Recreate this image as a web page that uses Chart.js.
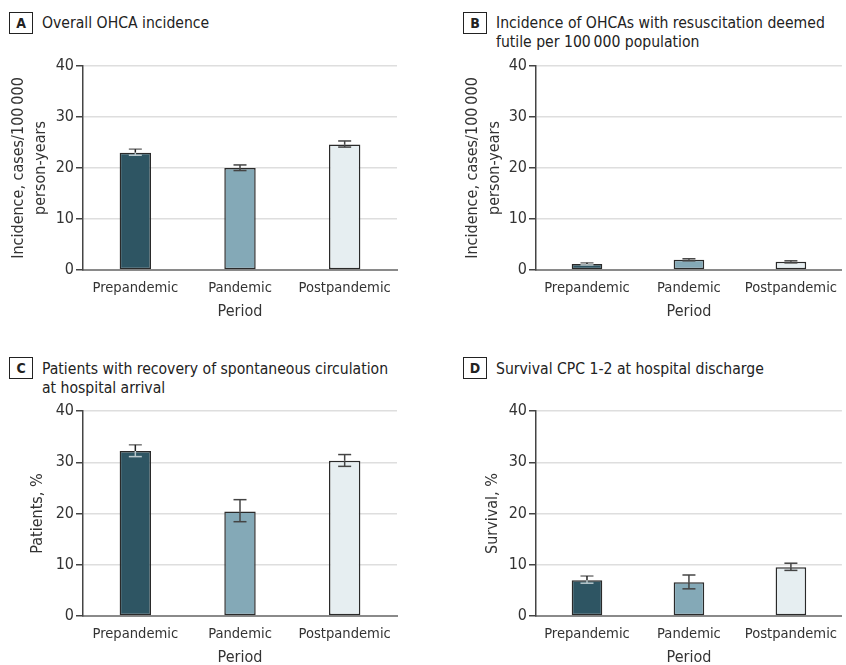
<!DOCTYPE html>
<html>
<head>
<meta charset="utf-8">
<script src="https://cdn.jsdelivr.net/npm/chart.js@4/dist/chart.umd.min.js"></script>
<style>
  html, body { margin:0; padding:0; background:#fff; width:846px; height:665px; overflow:hidden; }
  body { position:relative; font-family:"DejaVu Sans Condensed","DejaVu Sans",sans-serif; color:#222; }
  .panel { position:absolute; }
  .hdr { position:absolute; font-size:15.6px; line-height:18.5px; color:#222; }
  .box { position:absolute; width:22px; height:20px; border:1px solid #222; font-weight:bold; font-size:14px; text-align:center; line-height:20px; }
  canvas { position:absolute; }
</style>
</head>
<body>
<div class="box" style="left:9px;top:12px;">A</div>
<div class="hdr" style="left:42px;top:14px;">Overall OHCA incidence</div>
<div class="box" style="left:463px;top:12px;">B</div>
<div class="hdr" style="left:496px;top:14px;">Incidence of OHCAs with resuscitation deemed<br>futile per 100&#8201;000 population</div>
<div class="box" style="left:9px;top:357px;">C</div>
<div class="hdr" style="left:42px;top:360px;">Patients with recovery of spontaneous circulation<br>at hospital arrival</div>
<div class="box" style="left:463px;top:357px;">D</div>
<div class="hdr" style="left:496px;top:360px;">Survival CPC 1-2 at hospital discharge</div>

<div class="panel" style="left:0;top:0;width:423px;height:330px;"><canvas id="cA"></canvas></div>
<div class="panel" style="left:423px;top:0;width:423px;height:330px;"><canvas id="cB"></canvas></div>
<div class="panel" style="left:0;top:330px;width:423px;height:340px;"><canvas id="cC"></canvas></div>
<div class="panel" style="left:423px;top:330px;width:423px;height:340px;"><canvas id="cD"></canvas></div>

<script>
// ---- data ----
const periods = ["Prepandemic", "Pandemic", "Postpandemic"];
const yTicks = [0, 10, 20, 30, 40];

const incidenceOverall = [23.0, 20.0, 24.6];
const incidenceOverallLow = [22.5, 19.5, 24.1];
const incidenceOverallHigh = [23.7, 20.6, 25.3];

const incidenceFutile = [1.2, 2.0, 1.6];
const incidenceFutileLow = [1.0, 1.8, 1.4];
const incidenceFutileHigh = [1.4, 2.2, 1.8];

const roscPct = [32.2, 20.4, 30.3];
const roscLow = [31.1, 18.4, 29.2];
const roscHigh = [33.4, 22.7, 31.5];

const survivalPct = [7.0, 6.6, 9.5];
const survivalLow = [6.4, 5.3, 8.9];
const survivalHigh = [7.8, 8.0, 10.3];

const barColors = ["#2e5563", "#84a9b7", "#e6eef1"];
const capAboveColors = ["#777", "#444", "#444"];
const capInsideColors = ["#b9c8cd", "#444", "#444"];

const FONT = "'DejaVu Sans Condensed','DejaVu Sans',sans-serif";

const errorBarPlugin = {
  id: 'errorBars',
  afterDatasetsDraw(chart) {
    const ctx = chart.ctx;
    const meta = chart.getDatasetMeta(0);
    const ys = chart.scales.y;
    const ds = chart.data.datasets[0];
    ds.values.forEach((v, i) => {
      const x = meta.data[i].x;
      const yv = ys.getPixelForValue(v);
      const yl = ys.getPixelForValue(ds.lows[i]);
      const yh = ys.getPixelForValue(ds.highs[i]);
      const cw = 6.5;
      ctx.save();
      ctx.lineWidth = 1.5;
      ctx.strokeStyle = capAboveColors[i];
      ctx.beginPath(); ctx.moveTo(x - cw, yh); ctx.lineTo(x + cw, yh); ctx.stroke();
      ctx.strokeStyle = (i === 0) ? "#222" : capAboveColors[i];
      ctx.beginPath(); ctx.moveTo(x, yh); ctx.lineTo(x, yv); ctx.stroke();
      ctx.strokeStyle = capInsideColors[i];
      ctx.beginPath(); ctx.moveTo(x, yv); ctx.lineTo(x, yl); ctx.stroke();
      ctx.beginPath(); ctx.moveTo(x - cw, yl); ctx.lineTo(x + cw, yl); ctx.stroke();
      ctx.restore();
    });
  }
};

function makeChart(id, values, lows, highs, yTitle, cfg) {
  const el = document.getElementById(id);
  el.width = 423; el.height = cfg.h;
  el.style.width = '423px'; el.style.height = cfg.h + 'px';
  return new Chart(el, {
    type: 'bar',
    data: {
      labels: periods,
      datasets: [{
        data: values,
        values: values, lows: lows, highs: highs,
        backgroundColor: barColors,
        borderColor: "#2a2a2a",
        borderWidth: 1.5,
        borderSkipped: false,
        barPercentage: 0.3,
        categoryPercentage: 1.0
      }]
    },
    options: {
      responsive: false,
      animation: false,
      devicePixelRatio: 1,
      layout: { padding: { left: cfg.padL, right: cfg.padR, top: cfg.padT, bottom: cfg.padB } },
      plugins: { legend: { display: false }, tooltip: { enabled: false }, title: { display: false } },
      scales: {
        x: {
          offset: true,
          grid: { display: false, drawTicks: false },
          border: { display: true, color: "#8a8a8a", width: 2 },
          ticks: { color: "#333", font: { family: FONT, size: 14.6 }, padding: 9, maxRotation: 0 },
          title: { display: true, text: "Period", color: "#333", font: { family: FONT, size: 16 }, padding: { top: 0, bottom: 0 } },
          afterFit: (s) => { s.height = cfg.xH; }
        },
        y: {
          min: 0, max: 40,
          afterBuildTicks: (s) => { s.ticks = yTicks.map(v => ({ value: v })); },
          grid: { color: (c) => c.tick && c.tick.value === 0 ? "rgba(0,0,0,0)" : "#dedede", lineWidth: 1.5, tickColor: "#444", tickLength: 7, drawTicks: true },
          border: { display: true, color: "#444", width: 1.5 },
          ticks: { color: "#333", font: { family: FONT, size: 16 }, padding: 2 },
          title: { display: true, text: yTitle, color: "#333", font: { family: FONT, size: 16, lineHeight: 1.35 }, padding: { top: 0, bottom: 0 } },
          afterFit: (s) => { s.width = cfg.yW; }
        }
      }
    },
    plugins: [errorBarPlugin]
  });
}

const incTitle = ["Incidence, cases/100\u2009000", "person-years"];
makeChart('cA', incidenceOverall, incidenceOverallLow, incidenceOverallHigh, incTitle,
  { h: 330, padL: 8, padR: 26, padT: 66, padB: 9, yW: 75, xH: 51 });
makeChart('cB', incidenceFutile, incidenceFutileLow, incidenceFutileHigh, incTitle,
  { h: 330, padL: 39, padR: 0, padT: 66, padB: 9, yW: 74, xH: 51 });
makeChart('cC', roscPct, roscLow, roscHigh, "Patients, %",
  { h: 340, padL: 27, padR: 26, padT: 81, padB: 3, yW: 56, xH: 51 });
makeChart('cD', survivalPct, survivalLow, survivalHigh, "Survival, %",
  { h: 340, padL: 59, padR: 0, padT: 81, padB: 3, yW: 54, xH: 51 });
</script>
</body>
</html>
